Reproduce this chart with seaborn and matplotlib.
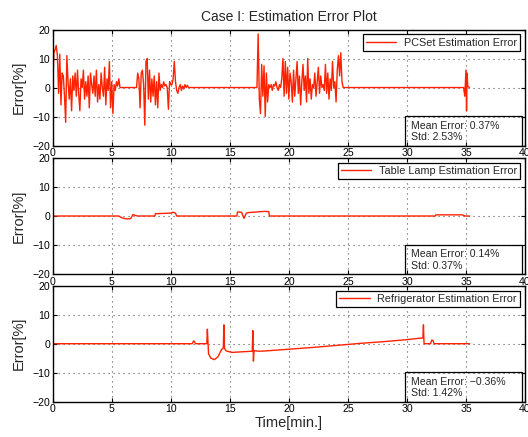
import numpy as np
import pandas as pd
import matplotlib
matplotlib.use('Agg')
import matplotlib.pyplot as plt
import seaborn as sns
from matplotlib.patches import Rectangle

# ── DATA ──────────────────────────────────────────────────────
sample_step = 0.1  # min between samples inside the noisy PCSet bursts

pc_burst1_start = 0.1
pc_burst1 = [12, 13, 14.5, 11, -2, 11.5, -6, 5, 4, -3,
             -12, 11, 2, -4, 3, -8, 4, -1, 5, -3,
             6, -2, -8, 3, 0, 6, -4, 2, -3, 4,
             -7, 5, 1, -2, 4, -3, 6, -5, 1, -4,
             5, 0, -3, 7, -6, 3, -1, 9, -7, 2,
             -9, 1, -1, 2, 0.5, 3]
pc_burst2_start = 7.1
pc_burst2 = [0, 5, 3, -7, 5, 6, 1, -13, 9, 10,
             -4, 6, -5, 3, -3, 4, -6, 2, -7, 5,
             -1, 1, 0, 2, 0.5, 1, 0, -7.5, 2, 1,
             1, 3, 9, 2, -1, -2, 0, 1, -1, 0.5,
             -0.5, 1, 0, 0.8, 0]
pc_burst3_start = 17.4
pc_burst3 = [18.5, -4, -9, 8, -3, 7.5, -10, 5, -5, 1,
             0, 1, -1, 1, 0.5, 2, 0, -1, 1, 0,
             3, 10, -3, 9, -2, 7, -4, 5, 2, -5,
             6, -3, 3, 9, -2, 4, -6, 2, 8, -1,
             4, -5, 10, -2, 3, -4, 1, 0, 5, -3,
             2, 7, -2, 4, 0, 1, -1, 8, -2, 5,
             -4, 3, -1, 9, 0, 2, -5, 6, 11, 4,
             12, 2, 0]
pc_quiet_time = [0.0, 5.7, 7.0, 11.6, 17.3, 24.7, 34.8, 34.9, 35.0, 35.05, 35.1, 35.15, 35.3]
pc_quiet_err = [0, 0, 0, 0, 0, 0, 0, -3, 6, -8, 5, 0.5, 0]

lamp_time = [0, 5.6, 5.8, 6.0, 6.3, 6.6, 6.8, 7.0, 7.2, 8.65, 8.7, 10.0, 10.2, 10.4, 10.5,
             15.6, 15.65, 16.0, 16.2, 16.4, 16.6, 17.0, 17.6, 18.0, 18.3, 18.35,
             32.4, 32.45, 34.7, 34.9, 35.3]
lamp_err = [0, 0, -0.5, -0.8, -1.0, -0.9, 0.5, 0.2, 0, 0, 0.8, 1.0, 1.3, 1.0, 0,
            0, 1.4, 1.3, -0.8, 1.0, 1.2, 1.3, 1.5, 1.6, 1.5, 0,
            0, 0.4, 0.4, 0, 0]

fridge_time = [0, 11.8, 11.95, 12.1, 13.05, 13.1, 13.2, 13.4, 13.7, 14.0, 14.3, 14.45, 14.5,
               14.55, 14.6, 14.7, 15.2, 16.0, 16.9, 16.95, 17.0, 17.05, 17.1, 17.5, 18.0,
               20.0, 22.0, 24.0, 26.0, 28.0, 30.0, 31.35, 31.4, 31.45, 31.5, 32.0, 32.1,
               32.2, 32.3, 35.3]
fridge_err = [0, 0, 1.0, 0, 0, 5.0, -3.5, -5.0, -5.5, -4.5, -2.0, -1.5, 6.5,
              -1.5, -2.0, -2.5, -3.0, -2.8, -2.6, 4.5, -6.0, -2.5, -2.4, -2.6, -2.5,
              -1.9, -1.3, -0.6, 0.1, 0.7, 1.4, 2.0, 6.5, 0, 0, 0, 1.2,
              1.2, 0, 0]

labels = ['PCSet Estimation Error', 'Table Lamp Estimation Error', 'Refrigerator Estimation Error']
mean_err = ['0.37%', '0.14%', '\u22120.36%']
std_err = ['2.53%', '0.37%', '1.42%']

x_ticks = [0, 5, 10, 15, 20, 25, 30, 35, 40]
y_ticks = [-20, -10, 0, 10, 20]

# ── BUILD TABLES ──────────────────────────────────────────────
def burst(start, values):
    t = start + sample_step * np.arange(len(values))
    return pd.DataFrame({'time': t, 'err': values})

pc = pd.concat([burst(pc_burst1_start, pc_burst1),
                burst(pc_burst2_start, pc_burst2),
                burst(pc_burst3_start, pc_burst3),
                pd.DataFrame({'time': pc_quiet_time, 'err': pc_quiet_err})])
pc = pc.sort_values('time').reset_index(drop=True)
lamp = pd.DataFrame({'time': lamp_time, 'err': lamp_err})
fridge = pd.DataFrame({'time': fridge_time, 'err': fridge_err})

# ── STYLE ─────────────────────────────────────────────────────
sns.set_style('ticks')
plt.rcParams['font.family'] = ['Liberation Sans', 'DejaVu Sans']
plt.rcParams['xtick.direction'] = 'in'
plt.rcParams['ytick.direction'] = 'in'
RED = '#ff2200'

fig = plt.figure(figsize=(5.28, 4.37), dpi=100)
rects = [[0.0998, 0.667, 0.8945, 0.2654],
         [0.0998, 0.373, 0.8945, 0.2654],
         [0.0998, 0.0808, 0.8945, 0.2654]]

for i, (df, rect) in enumerate(zip([pc, lamp, fridge], rects)):
    ax = fig.add_axes(rect)
    sns.lineplot(data=df, x='time', y='err', ax=ax, color=RED, lw=1.0,
                 estimator=None, sort=False, label=labels[i])
    ax.set_xlim(0, 40)
    ax.set_ylim(-20, 20)
    ax.set_xticks(x_ticks)
    ax.set_yticks(y_ticks)
    ax.tick_params(labelsize=7.6, length=3, width=0.8, pad=2,
                   top=True, right=True, colors='black')
    ax.grid(True, ls=(0, (1, 3.5)), lw=0.8, color='#555555')
    for sp in ax.spines.values():
        sp.set_linewidth(1.0)
        sp.set_color('black')
    ax.set_ylabel('Error[%]', fontsize=10.5)
    ax.yaxis.set_label_coords(-0.057, 0.5)
    ax.set_xlabel('')
    leg = ax.legend(loc='upper right', fontsize=7.8, fancybox=False, framealpha=1,
                    edgecolor='black', handlelength=2.8, handletextpad=0.7,
                    borderaxespad=0.45, borderpad=0.3)
    leg.get_frame().set_linewidth(0.9)
    # stats box
    ax.add_patch(Rectangle((0.746, 0.0), 0.247, 0.254, transform=ax.transAxes,
                           fill=False, ec='black', lw=0.9, zorder=5))
    ax.text(0.759, 0.172, f'Mean Error: {mean_err[i]}', transform=ax.transAxes,
            fontsize=7.6, va='center', ha='left')
    ax.text(0.759, 0.073, f'Std: {std_err[i]}', transform=ax.transAxes,
            fontsize=7.6, va='center', ha='left')
    if i == 0:
        ax.set_title('Case I: Estimation Error Plot', fontsize=10, pad=6)
    if i == 2:
        ax.set_xlabel('Time[min.]', fontsize=10.5)
        ax.xaxis.set_label_coords(0.5, -0.125)

plt.savefig('out.png', dpi=100)
plt.close()
